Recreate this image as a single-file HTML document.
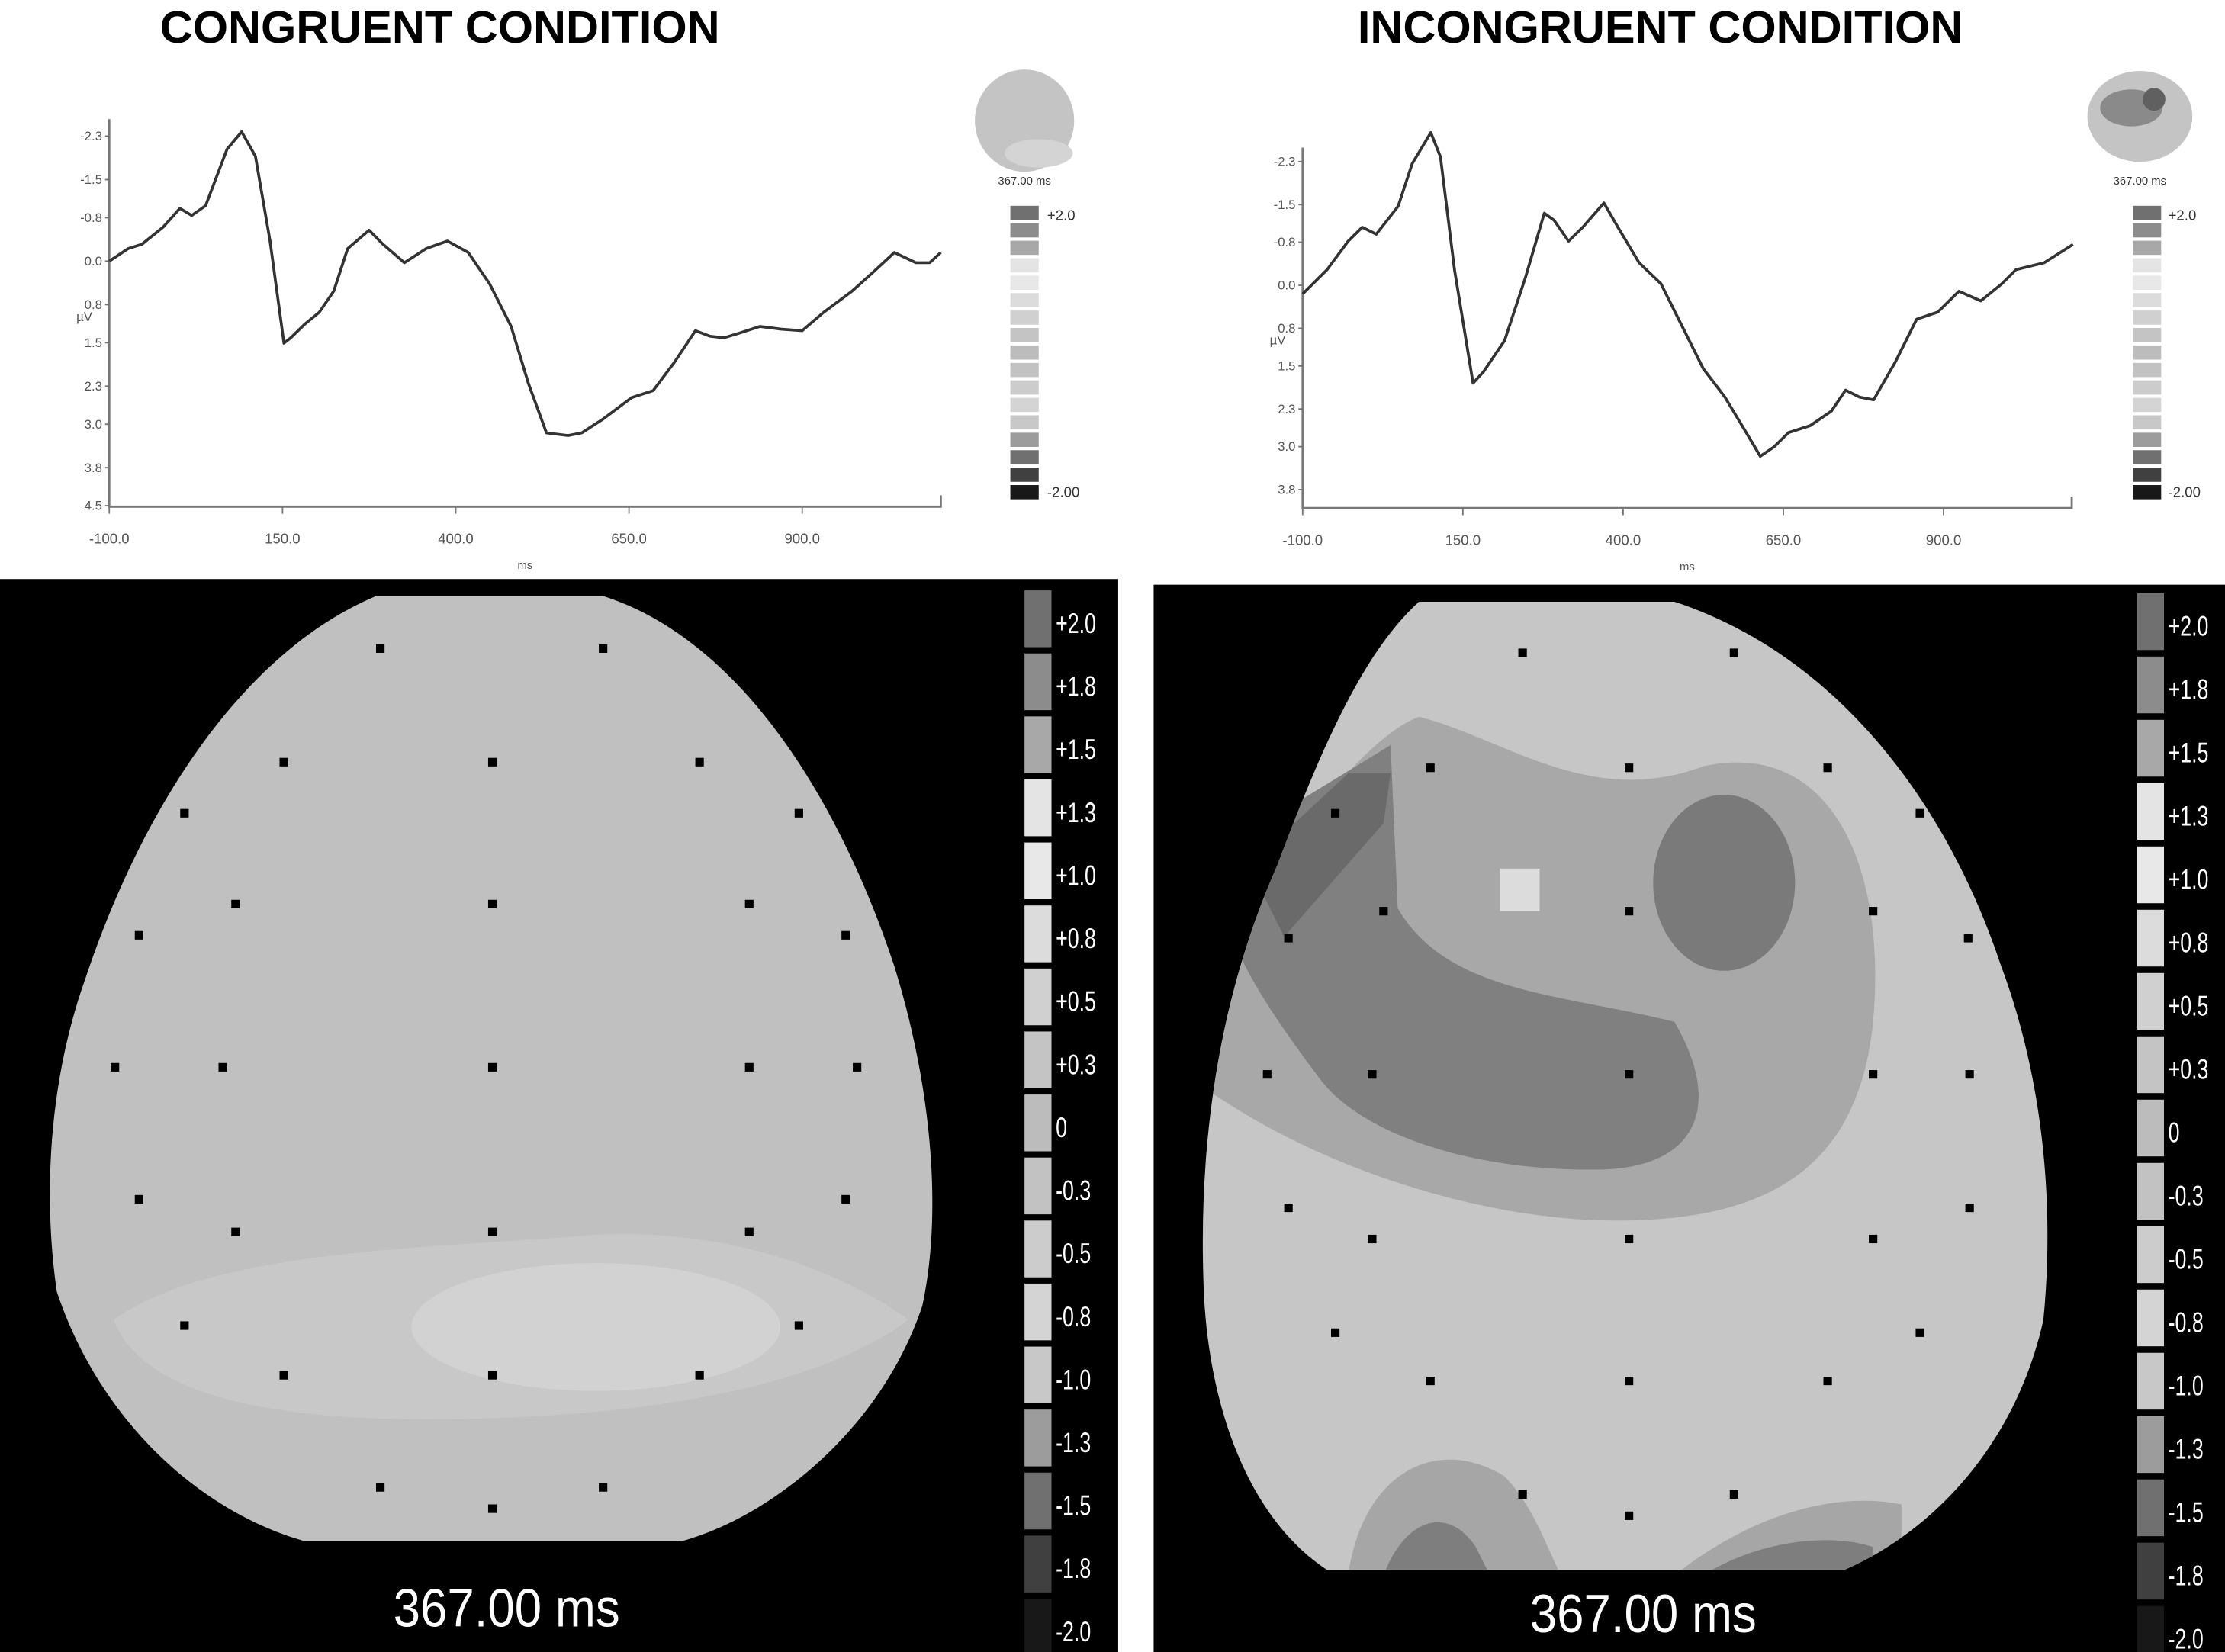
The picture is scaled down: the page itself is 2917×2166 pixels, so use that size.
<!DOCTYPE html>
<html><head><meta charset="utf-8"><style>
html,body{margin:0;padding:0;background:#fff;}
svg{display:block;}
text{font-family:"Liberation Sans",sans-serif;}
</style></head><body>
<svg id="fig" width="2917" height="2166" viewBox="0 0 1568 1164" preserveAspectRatio="none" xmlns="http://www.w3.org/2000/svg">
<defs>
<clipPath id="hl"><path d="M265,420 L425,420 C520,450 590,560 630,680 C655,760 665,850 650,920 C620,1010 540,1070 480,1086 L215,1086 C140,1065 70,1000 40,910 C30,840 35,760 60,690 C100,570 170,460 265,420 Z"/></clipPath>
<clipPath id="hr"><path d="M1000,424 L1180,424 C1290,460 1370,560 1410,680 C1440,760 1448,850 1440,930 C1420,1020 1360,1080 1300,1106 L935,1106 C880,1070 850,990 848,900 C845,800 860,700 900,610 C930,530 960,460 1000,424 Z"/></clipPath>
</defs>
<text x="310" y="30" text-anchor="middle" font-size="32" font-weight="bold" fill="#000">CONGRUENT CONDITION</text>
<text x="1170" y="30" text-anchor="middle" font-size="32" font-weight="bold" fill="#000">INCONGRUENT CONDITION</text>

<g id="erpL"></g>
<g id="erpR"></g>

<g>
<ellipse cx="722" cy="85" rx="35" ry="36" fill="#c4c4c4"/>
<ellipse cx="732" cy="108" rx="24" ry="10" fill="#d4d4d4"/>
<text x="722" y="130" text-anchor="middle" font-size="8" fill="#333">367.00 ms</text>
</g>
<g>
<ellipse cx="1508" cy="82" rx="37" ry="32" fill="#c4c4c4"/>
<ellipse cx="1502" cy="76" rx="22" ry="13" fill="#8a8a8a"/>
<ellipse cx="1518" cy="70" rx="8" ry="8" fill="#606060"/>
<text x="1508" y="130" text-anchor="middle" font-size="8" fill="#333">367.00 ms</text>
</g>
<g id="smallbars"></g>

<rect x="0" y="408" width="788" height="756" fill="#000"/>
<rect x="813" y="412" width="755" height="752" fill="#000"/>

<g clip-path="url(#hl)">
<rect x="0" y="400" width="788" height="700" fill="#c0c0c0"/>
<path d="M80,930 C150,880 300,880 420,870 C520,865 600,900 640,930 C560,990 400,1000 300,1000 C180,1000 100,980 80,930 Z" fill="#c8c8c8"/>
<ellipse cx="420" cy="935" rx="130" ry="45" fill="#d2d2d2"/>
</g>
<g clip-path="url(#hr)">
<rect x="813" y="400" width="755" height="720" fill="#c6c6c6"/>
<path d="M840,700 C900,600 960,520 1000,505 C1060,520 1120,570 1200,540 C1290,520 1330,610 1320,720 C1310,820 1250,860 1140,860 C1040,860 920,820 840,760 Z" fill="#a8a8a8"/>
<path d="M890,580 L980,525 L985,640 C1020,700 1100,700 1180,720 C1215,780 1195,822 1130,824 C1040,826 960,800 930,760 C900,720 880,690 868,660 Z" fill="#808080"/>
<path d="M880,610 L950,545 L980,545 L975,580 L905,660 Z" fill="#6a6a6a"/>
<ellipse cx="1215" cy="622" rx="50" ry="62" fill="#7a7a7a"/>
<rect x="1057" y="612" width="28" height="30" fill="#dcdcdc"/>
<path d="M950,1110 C960,1040 1010,1010 1060,1040 C1080,1060 1090,1090 1100,1110 Z" fill="#a6a6a6"/>
<path d="M975,1110 C990,1070 1020,1060 1040,1090 L1050,1110 Z" fill="#7e7e7e"/>
<path d="M1180,1110 C1230,1070 1290,1050 1340,1060 L1340,1110 Z" fill="#a6a6a6"/>
<path d="M1200,1110 C1240,1085 1290,1080 1320,1090 L1320,1110 Z" fill="#7e7e7e"/>
</g>
<g id="dots"></g>
<text x="357" y="1146" text-anchor="middle" font-size="38" fill="#fff" transform="translate(357 0) scale(0.9 1) translate(-357 0)">367.00 ms</text>
<text x="1158" y="1150" text-anchor="middle" font-size="38" fill="#fff" transform="translate(1158 0) scale(0.9 1) translate(-1158 0)">367.00 ms</text>
<g id="bars"></g>
</svg>
<script>
const tickVals=['-2.3','-1.5','-0.8','0.0','0.8','1.5','2.3','3.0','3.8','4.5'];
const tickNums=[-2.3,-1.5,-0.8,0,0.8,1.5,2.3,3.0,3.8,4.5];
const xTicks=[-100,150,400,650,900];
const timeL=[-100,-73,-53,-22,2,19,39,70,91,111,132,152,162,183,203,224,244,275,295,326,357,388,418,449,480,505,531,562,582,613,654,685,716,746,767,787,808,839,869,900,931,972,1002,1033,1064,1084,1100];
const voltL=[0,-0.23,-0.31,-0.63,-0.97,-0.84,-1.02,-2.06,-2.38,-1.93,-0.37,1.51,1.41,1.15,0.94,0.55,-0.23,-0.57,-0.31,0.03,-0.23,-0.37,-0.16,0.42,1.2,2.25,3.16,3.21,3.16,2.9,2.51,2.38,1.85,1.28,1.38,1.41,1.33,1.2,1.25,1.28,0.94,0.55,0.21,-0.16,0.03,0.03,-0.16];
const timeR=[-100,-62,-29,-7,15,49,71,100,115,137,166,182,215,248,277,292,315,337,370,392,425,459,492,525,559,592,614,636,658,692,725,747,769,791,825,858,891,924,958,991,1013,1057,1102];
const voltR=[0.16,-0.29,-0.82,-1.08,-0.95,-1.47,-2.26,-2.84,-2.39,-0.29,1.82,1.61,1.03,-0.16,-1.34,-1.21,-0.82,-1.08,-1.53,-1.08,-0.42,-0.03,0.76,1.55,2.08,2.74,3.18,3.0,2.74,2.61,2.34,1.95,2.08,2.13,1.42,0.63,0.5,0.11,0.29,-0.03,-0.29,-0.42,-0.76];
const barLabels=['+2.0','+1.8','+1.5','+1.3','+1.0','+0.8','+0.5','+0.3','0','-0.3','-0.5','-0.8','-1.0','-1.3','-1.5','-1.8','-2.0'];
const barColors=['#707070','#8c8c8c','#a8a8a8','#e4e4e4','#e8e8e8','#dcdcdc','#d0d0d0','#c4c4c4','#bcbcbc','#c2c2c2','#cccccc','#d4d4d4','#c8c8c8','#9c9c9c','#707070','#404040','#181818'];
const electrodesL=[[268,457],[425,457],[200,537],[347,537],[493,537],[130,573],[563,573],[166,637],[347,637],[528,637],[98,659],[596,659],[81,752],[157,752],[347,752],[528,752],[604,752],[98,845],[166,868],[347,868],[528,868],[596,845],[130,934],[563,934],[200,969],[347,969],[493,969],[268,1048],[425,1048],[347,1063]];
const electrodesR=[[1073,460],[1222,460],[1008,541],[1148,541],[1288,541],[941,573],[1353,573],[975,642],[1148,642],[1320,642],[908,661],[1387,661],[893,757],[967,757],[1148,757],[1320,757],[1388,757],[908,851],[967,873],[1148,873],[1320,873],[1388,851],[941,939],[1353,939],[1008,973],[1148,973],[1288,973],[1073,1053],[1222,1053],[1148,1068]];
const NS='http://www.w3.org/2000/svg';
function mk(tag,attrs,parent){const e=document.createElementNS(NS,tag);for(const k in attrs)e.setAttribute(k,attrs[k]);parent.appendChild(e);return e;}
function erp(g,x0,x1,y0,yPerUnit,yTop,yBot,ticks,times,volts,name){
  const sx=t=>x0+(t+100)*(x1-x0)/1200;
  const sy=v=>y0+v*yPerUnit;
  const ax=mk('path',{d:`M${x0},${yTop-6} L${x0},${yBot} L${x1},${yBot} L${x1},${yBot-8}`,fill:'none',stroke:'#777','stroke-width':1.5},g);
  
  
  ticks.forEach(i=>{const y=sy(tickNums[i]);
    mk('line',{x1:x0-3,x2:x0,y1:y,y2:y,stroke:'#777'},g);
    const t=mk('text',{x:x0-5,y:y+3,'text-anchor':'end','font-size':9,fill:'#555'},g);t.textContent=tickVals[i];
    
    });
  xTicks.forEach(v=>{const x=sx(v);
    mk('line',{x1:x,x2:x,y1:yBot,y2:yBot+5,stroke:'#777'},g);
    const t=mk('text',{x:x,y:yBot+26,'text-anchor':'middle','font-size':10,fill:'#555'},g);t.textContent=v.toFixed(1);
    
    });
  const u=mk('text',{x:x0-12,y:sy(1.1),'font-size':9,fill:'#555','text-anchor':'end'},g);u.textContent='µV';
  
  
  const m=mk('text',{x:sx(500),y:yBot+44,'font-size':8,fill:'#555','text-anchor':'middle'},g);m.textContent='ms';
  
  
  let d='';times.forEach((t,i)=>{d+=(i?'L':'M')+sx(t).toFixed(1)+','+sy(volts[i]).toFixed(1)+' ';});
  const p=mk('path',{d:d,fill:'none',stroke:'#333','stroke-width':2,'stroke-linejoin':'round'},g);
  
  
}
erp(document.getElementById('erpL'),77,663,184,38.3,90,357,[0,1,2,3,4,5,6,7,8,9],timeL,voltL,'congruent');
erp(document.getElementById('erpR'),918,1460,201,37.9,110,358,[0,1,2,3,4,5,6,7,8],timeR,voltR,'incongruent');
function dots(list,name){const g=document.getElementById('dots');
  list.forEach(p=>{const r=mk('rect',{x:p[0]-3,y:p[1]-3,width:6,height:6,fill:'#000'},g);
  
  });}
dots(electrodesL,'congruent');dots(electrodesR,'incongruent');
function bar(x,y0,step,w,h,fs,name,parent,showAll){
  barColors.forEach((c,i)=>{const r=mk('rect',{x:x,y:y0+i*step,width:w,height:h,fill:c},parent);
    
    
    if(showAll){const ty=y0+i*step+h*0.75;const tx=x+w+3;
      const t=mk('text',{x:tx,y:ty,'font-size':fs,fill:'#fff',transform:`translate(${tx} 0) scale(0.72 1) translate(${-tx} 0)`},parent);t.textContent=barLabels[i];
      
      }});
}
const bars=document.getElementById('bars');
bar(722,416,44.4,19,40,20,'congruent-colorbar',bars,true);
bar(1506,418,44.6,19,40,20,'incongruent-colorbar',bars,true);
const sb=document.getElementById('smallbars');
bar(712,145,12.3,20,10,0,'congruent-mini-colorbar',sb,false);
bar(1503,145,12.3,20,10,0,'incongruent-mini-colorbar',sb,false);
[[738,155,'+2.0'],[738,350,'-2.00'],[1528,155,'+2.0'],[1528,350,'-2.00']].forEach(a=>{
  const t=mk('text',{x:a[0],y:a[1],'font-size':10,fill:'#333'},sb);t.textContent=a[2];
  
  });
</script>
</body></html>
